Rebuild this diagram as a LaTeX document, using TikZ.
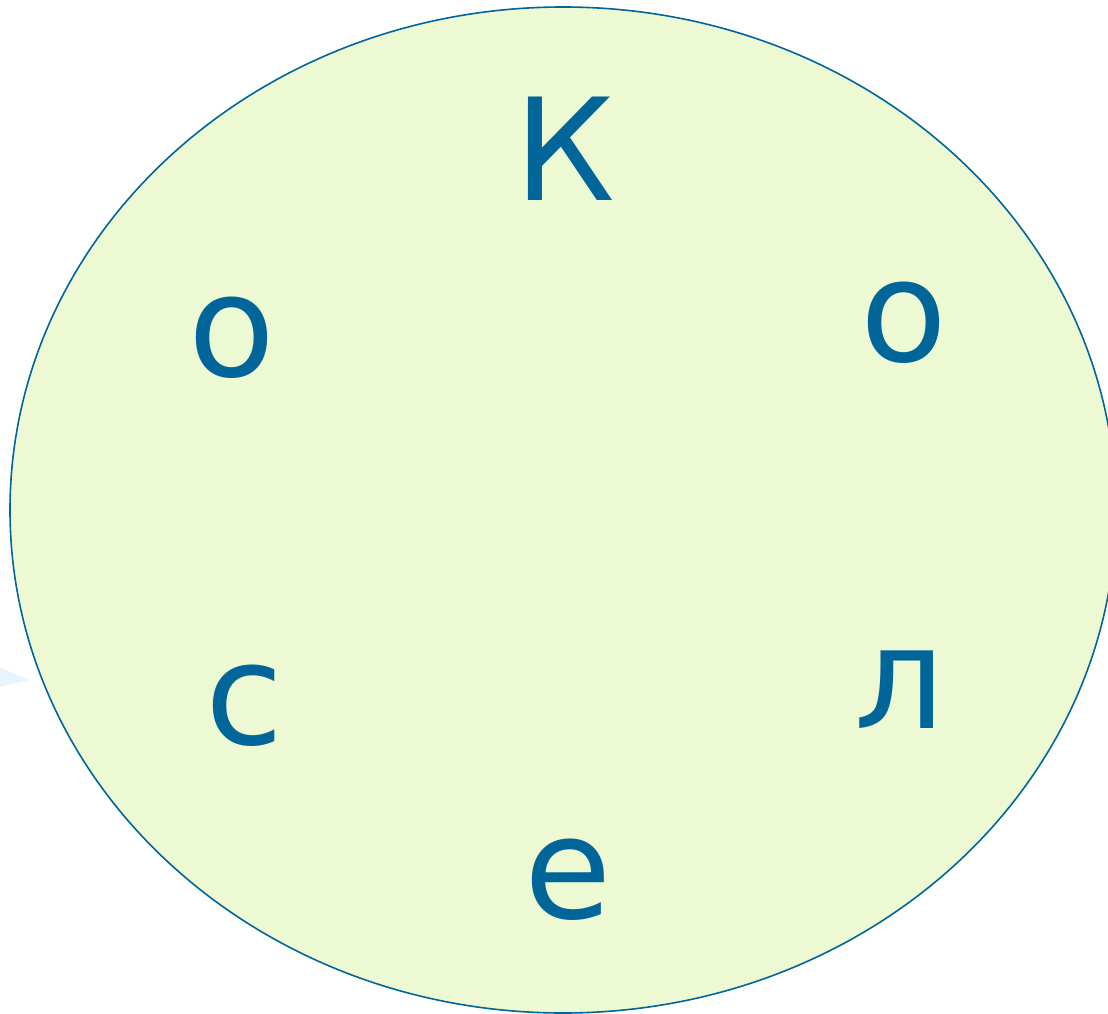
\documentclass[tikz,border=0pt]{standalone}
\usepackage{fontspec}
\setmainfont{DejaVu Sans}
\definecolor{strokeblue}{HTML}{006699}
\definecolor{fillgreen}{HTML}{EDF9D2}
\definecolor{tipblue}{HTML}{E6F4FF}
\begin{document}
\begin{tikzpicture}[x=1pt,y=-1pt,
  letter/.style={text=strokeblue,inner sep=0pt,anchor=center,font=\fontsize{142}{146}\selectfont}]
\useasboundingbox (0,0) rectangle (1108,1014);
\fill[tipblue] (-6,665) -- (29,680) -- (-6,688) -- cycle;
\draw[strokeblue,fill=fillgreen,line width=1.6pt] (563,510) ellipse [x radius=553, y radius=503];
\node[letter] (k) at (565,149) {К};
\node[letter] (o1) at (232,338) {о};
\node[letter] (o2) at (904,323) {о};
\node[letter] (s) at (245,706) {с};
\node[letter] (l) at (900,690) {л};
\node[letter] (e) at (568,880) {е};
\end{tikzpicture}
\end{document}
